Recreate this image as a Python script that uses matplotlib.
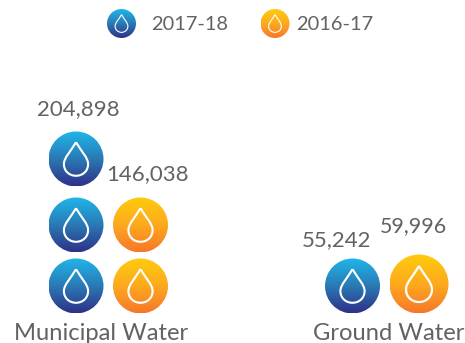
import numpy as np
import matplotlib
matplotlib.use('Agg')
import matplotlib.pyplot as plt
from matplotlib.colors import LinearSegmentedColormap
from matplotlib.patches import Circle, PathPatch
from matplotlib.path import Path

# DATA
categories = ['Municipal Water', 'Ground Water']
years = ['2017-18', '2016-17']
values_2017 = [204898, 55242]
values_2016 = [146038, 59996]
icons_2017 = [3, 1]
icons_2016 = [2, 1]

TEXT_COLOR = '#616264'
FONT = 'Lato'
BLUE = LinearSegmentedColormap.from_list('blue', ['#1fb6ea', '#2a7ab5', '#2e3188'])
ORANGE = LinearSegmentedColormap.from_list('orange', ['#ffcb0c', '#fdaa1e', '#f7772a'])

fig = plt.figure(figsize=(4.65, 3.43), dpi=100)
ax = fig.add_axes([0, 0, 1, 1])
ax.set_xlim(0, 465)
ax.set_ylim(343, 0)
ax.axis('off')
grad = np.linspace(0, 1, 256).reshape(-1, 1)


def draw_drop(x, y, r, cmap):
    # gradient disc, clipped to a circle
    im = ax.imshow(grad, cmap=cmap, extent=[x - r, x + r, y + r, y - r],
                   aspect='auto', zorder=2)
    im.set_clip_path(Circle((x, y), r, transform=ax.transData))
    # outline of the water drop
    t, b, w = 0.61 * r, 0.61 * r, 0.44 * r
    verts = [(x, y - t),
             (x + 0.4 * w, y - 0.5 * t), (x + w, y - 0.08 * b), (x + w, y + 0.3 * b),
             (x + w, y + 0.72 * b), (x + 0.55 * w, y + b), (x, y + b),
             (x - 0.55 * w, y + b), (x - w, y + 0.72 * b), (x - w, y + 0.3 * b),
             (x - w, y - 0.08 * b), (x - 0.4 * w, y - 0.5 * t), (x, y - t)]
    codes = [Path.MOVETO] + [Path.CURVE4] * 12
    ax.add_patch(PathPatch(Path(verts, codes), fill=False, ec='white',
                           lw=r * 0.055, joinstyle='round', zorder=3))


def label(x, y, s, ha='center', size=16):
    ax.text(x, y, s, fontsize=size, family=FONT, color=TEXT_COLOR,
            ha=ha, va='center', zorder=4)


# legend
draw_drop(121.5, 23.5, 14.5, BLUE)
label(151, 24, years[0], ha='left', size=14.4)
draw_drop(275, 23.5, 14.5, ORANGE)
label(296, 24, years[1], ha='left', size=14.4)

# municipal water
rows = [286, 225, 159]
for n in range(icons_2017[0]):
    draw_drop(76, rows[n], 27.5, BLUE)
for n in range(icons_2016[0]):
    draw_drop(140.5, rows[n], 27.5, ORANGE)
label(78, 109, f'{values_2017[0]:,}')
label(148, 174, f'{values_2016[0]:,}')
label(101, 333, categories[0], size=17.1)

# ground water
draw_drop(352.5, 286, 27.5, BLUE)
draw_drop(419, 284, 29.5, ORANGE)
label(336.5, 240, f'{values_2017[1]:,}')
label(413, 226, f'{values_2016[1]:,}', size=15.4)
label(388.5, 333, categories[1], size=17.1)

ax.set_xlim(0, 465)
ax.set_ylim(343, 0)
fig.savefig('out.png', dpi=100)
